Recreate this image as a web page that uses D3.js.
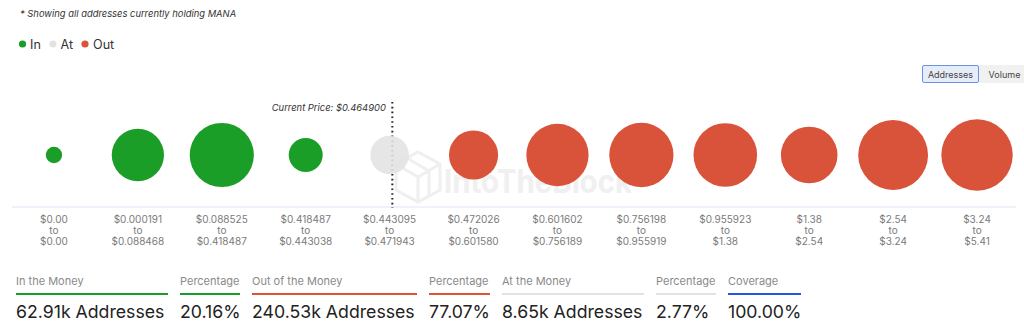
<!DOCTYPE html>
<html>
<head>
<meta charset="utf-8">
<script src="https://cdn.jsdelivr.net/npm/d3@7"></script>
<style>
  html, body { margin: 0; padding: 0; background: #fff; }
  svg { display: block; font-family: Inter, "Noto Sans", sans-serif; }
</style>
</head>
<body>
<svg id="chart" width="1024" height="327"></svg>
<script>
// Price ranges of each address cluster
const rangeFrom = ["$0.00", "$0.000191", "$0.088525", "$0.418487", "$0.443095", "$0.472026",
                   "$0.601602", "$0.756198", "$0.955923", "$1.38", "$2.54", "$3.24"];
const rangeTo   = ["$0.00", "$0.088468", "$0.418487", "$0.443038", "$0.471943", "$0.601580",
                   "$0.756189", "$0.955919", "$1.38", "$2.54", "$3.24", "$5.41"];
// Addresses (thousands) in each cluster
const addresses = [0.08, 21.0, 36.1, 5.73, 8.65, 17.7, 33.4, 36.2, 35.3, 26.0, 44.7, 47.23];
// Status relative to the current price
const status = ["in", "in", "in", "in", "at", "out", "out", "out", "out", "out", "out", "out"];
const currentPrice = "$0.464900";
const currentBucket = 4;
const coverage = "100.00%";

const colors = { in: "#1b9e28", at: "#e2e2e2", out: "#d9533a" };

const svg = d3.select("#chart");

// Header note
svg.append("text")
  .attr("x", 20).attr("y", 17)
  .attr("font-size", 9.4).attr("font-style", "italic").attr("fill", "#333")
  .text("* Showing all addresses currently holding MANA");

// Legend
const legend = [["In", "in", 22.5, 30], ["At", "at", 53, 60.5], ["Out", "out", 85, 93]];
legend.forEach(([label, key, cx, tx]) => {
  svg.append("circle").attr("cx", cx).attr("cy", 44).attr("r", 3.6).attr("fill", colors[key]);
  svg.append("text").attr("x", tx).attr("y", 48.5).attr("font-size", 12.6).attr("fill", "#333").text(label);
});

// Toggle buttons
svg.append("rect").attr("x", 979).attr("y", 65).attr("width", 45).attr("height", 18).attr("fill", "#f1f1f1");
svg.append("text").attr("x", 1004.5).attr("y", 77.5).attr("text-anchor", "middle")
  .attr("font-size", 9).attr("fill", "#444").text("Volume");
svg.append("rect").attr("x", 922.5).attr("y", 65.5).attr("width", 56).attr("height", 17).attr("rx", 1.5)
  .attr("fill", "#e7edf8").attr("stroke", "#6a94e0").attr("stroke-width", 1);
svg.append("text").attr("x", 950.5).attr("y", 77.5).attr("text-anchor", "middle")
  .attr("font-size", 9).attr("fill", "#444").text("Addresses");

// Scales
const x = d3.scaleBand().domain(d3.range(addresses.length)).range([12, 1019]).padding(0);
const r = d3.scaleSqrt().domain([0, d3.max(addresses)]).range([7, 35.7]);
const cy = 155;

// Watermark
const wm = svg.append("g").attr("fill", "none").attr("stroke", "#efefef").attr("stroke-width", 3);
wm.append("path").attr("d", "M418,152 L440,164 L440,190 L418,202 L396,190 L396,164 Z");
wm.append("path").attr("d", "M396,164 L418,177 L440,164 M418,177 L418,202 M407,158 L429,171 L429,196");
svg.append("text").attr("x", 444).attr("y", 193)
  .attr("font-size", 33).attr("font-weight", 700).attr("fill", "#f0f0f0")
  .attr("textLength", 188).attr("lengthAdjust", "spacingAndGlyphs")
  .text("IntoTheBlock");

// Axis baseline
svg.append("line").attr("x1", 12).attr("x2", 1016).attr("y1", 207).attr("y2", 207)
  .attr("stroke", "#dfe5f6").attr("stroke-width", 1.2);

// Current price marker
const px = x(currentBucket) + x.bandwidth() / 2 + 2.7;
svg.append("line").attr("x1", px).attr("x2", px).attr("y1", 102).attr("y2", 208)
  .attr("stroke", "#222").attr("stroke-width", 2).attr("stroke-dasharray", "1.6,3.2");
svg.append("text").attr("x", px - 6.5).attr("y", 110.5).attr("text-anchor", "end")
  .attr("font-size", 9.4).attr("font-style", "italic").attr("fill", "#333")
  .text("Current Price: " + currentPrice);

// Bubbles
svg.append("g").selectAll("circle").data(addresses).join("circle")
  .attr("cx", (d, i) => x(i) + x.bandwidth() / 2)
  .attr("cy", cy)
  .attr("r", d => r(d))
  .attr("fill", (d, i) => colors[status[i]])
  .attr("fill-opacity", (d, i) => status[i] === "at" ? 0.88 : 1);

// Range labels
const labels = svg.append("g").attr("font-size", 10).attr("fill", "#7a7a7a").attr("text-anchor", "middle");
addresses.forEach((d, i) => {
  const cx = x(i) + x.bandwidth() / 2;
  labels.append("text").attr("x", cx).attr("y", 222.5).text(rangeFrom[i]);
  labels.append("text").attr("x", cx).attr("y", 233.5).text("to");
  labels.append("text").attr("x", cx).attr("y", 244.5).text(rangeTo[i]);
});

// Summary
const sumOf = key => d3.sum(addresses.filter((d, i) => status[i] === key));
const total = d3.sum(addresses);
const fmtK = v => v.toFixed(2) + "k Addresses";
const fmtP = v => (v / total * 100).toFixed(2) + "%";
const summary = [
  { label: "In the Money", value: fmtK(sumOf("in")), x: 16, w: 152, color: "#1b9e28" },
  { label: "Percentage", value: fmtP(sumOf("in")), x: 180, w: 60, color: "#1b9e28" },
  { label: "Out of the Money", value: fmtK(sumOf("out")), x: 252, w: 165, color: "#e0533b" },
  { label: "Percentage", value: fmtP(sumOf("out")), x: 429, w: 61, color: "#e0533b" },
  { label: "At the Money", value: fmtK(sumOf("at")), x: 502, w: 142, color: "#e3e3e3" },
  { label: "Percentage", value: fmtP(sumOf("at")), x: 656, w: 60, color: "#e3e3e3" },
  { label: "Coverage", value: coverage, x: 728, w: 73, color: "#2a54e6" }
];
summary.forEach(s => {
  svg.append("text").attr("x", s.x).attr("y", 285).attr("font-size", 11).attr("fill", "#8a8a8a").text(s.label);
  svg.append("line").attr("x1", s.x).attr("x2", s.x + s.w).attr("y1", 294).attr("y2", 294)
    .attr("stroke", s.color).attr("stroke-width", 2);
  svg.append("text").attr("x", s.x).attr("y", 318).attr("font-size", 17.7).attr("fill", "#222").text(s.value);
});
</script>
</body>
</html>
